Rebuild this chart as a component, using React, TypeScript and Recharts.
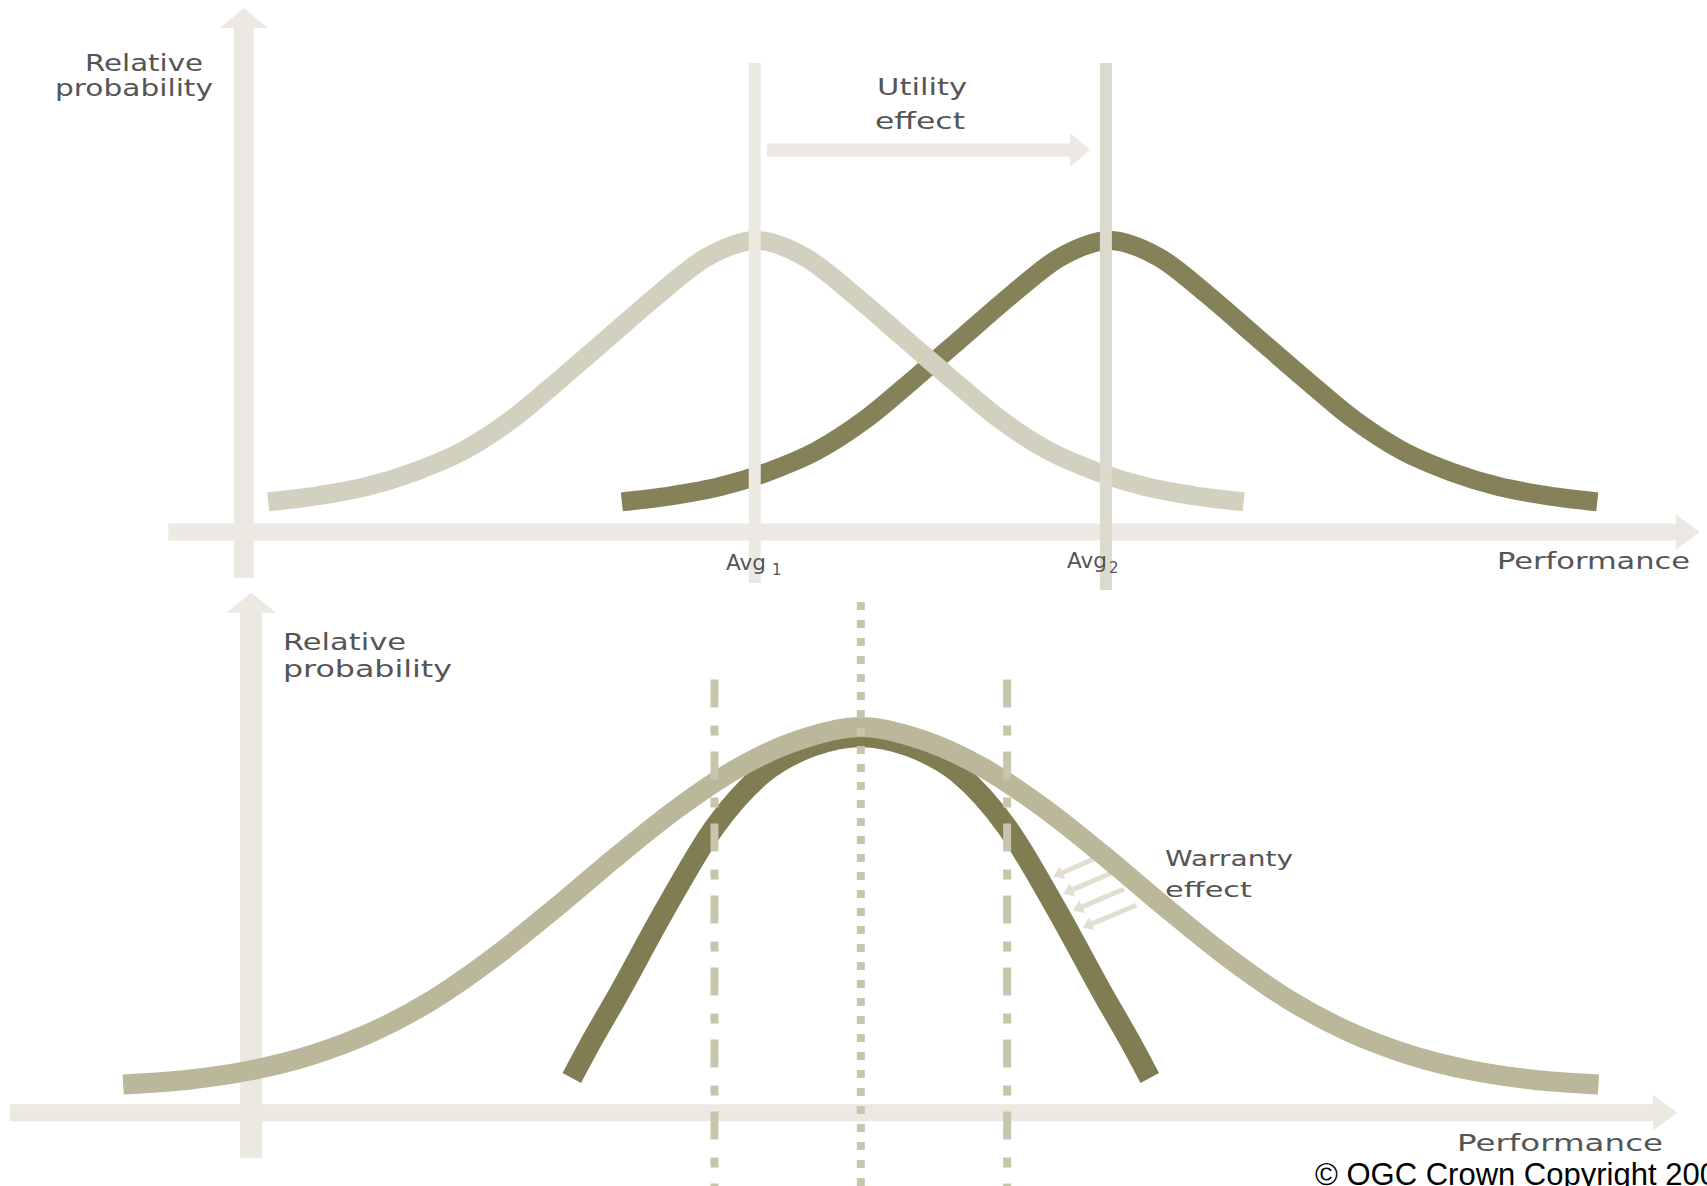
import React from 'react';
import { ComposedChart, Line, XAxis, YAxis, ReferenceLine } from 'recharts';

// ---------- Top panel: utility effect (performance units vs relative probability) ----------
const topBeforeX = [2, 6, 10, 14, 18, 22, 26, 30, 34, 38, 42, 46, 50, 54, 58, 62, 66, 70, 74, 78, 82];
const topBeforeY = [0.1, 0.12, 0.15, 0.2, 0.27, 0.375, 0.51, 0.65, 0.79, 0.915, 0.97, 0.915, 0.79, 0.65, 0.51, 0.375, 0.27, 0.2, 0.15, 0.12, 0.1];
const topAfterX = [31, 35, 39, 43, 47, 51, 55, 59, 63, 67, 71, 75, 79, 83, 87, 91, 95, 99, 103, 107, 111];
const topAfterY = [0.1, 0.12, 0.15, 0.2, 0.27, 0.375, 0.51, 0.65, 0.79, 0.915, 0.97, 0.915, 0.79, 0.65, 0.51, 0.375, 0.27, 0.2, 0.15, 0.12, 0.1];
const averages = [41.9, 70.7];
const averageTop = 1.56;
const averageBottoms = [-0.17, -0.193];
const utilityFrom = 42.9;
const utilityTo = 69.4;
const utilityLevel = 1.271;
const topAxisXStart = -6.2;
const topAxisXEnd = 119.4;
const topAxisYStart = -0.153;
const topAxisYEnd = 1.743;

// ---------- Bottom panel: warranty effect ----------
const bottomWideX = [-10.5, -5, 0, 5, 10, 15, 20, 25, 30, 35, 40, 45, 50, 55, 60, 65, 70, 75, 80, 85, 90, 95, 100, 105, 110.5];
const bottomWideY = [0.073, 0.086, 0.11, 0.15, 0.21, 0.295, 0.405, 0.532, 0.665, 0.79, 0.895, 0.967, 1.0, 0.967, 0.895, 0.79, 0.665, 0.532, 0.405, 0.295, 0.21, 0.15, 0.11, 0.086, 0.073];
const bottomNarrowX = [26.3, 28, 30, 34, 38, 42, 46, 50, 54, 58, 62, 66, 70, 72, 73.7];
const bottomNarrowY = [0.09, 0.19, 0.3, 0.53, 0.74, 0.88, 0.95, 0.975, 0.95, 0.88, 0.74, 0.53, 0.3, 0.19, 0.09];
const targetCentre = 50;
const specLimits = [38, 62];
const specTop = 1.123;
const warrantyStartX = [69.6, 70.6, 71.6, 72.6];
const warrantyStartY = [0.665, 0.622, 0.58, 0.538];
const warrantyEndX = [65.8, 66.6, 67.4, 68.2];
const warrantyEndY = [0.612, 0.568, 0.524, 0.48];
const bottomAxisXStart = -19.8;
const bottomAxisXEnd = 116.95;
const bottomAxisYStart = -0.117;
const bottomAxisYEnd = 1.348;

const toPoints = (xs: number[], ys: number[]) => xs.map((x, i) => ({ x, y: ys[i] }));

const AXIS = '#ebe9e1';
const TEXT = '#555555';

const arrowShape = (color: string, width: number, headLen: number, headHalf: number) => (p: any) => {
  const { x1, y1, x2, y2 } = p;
  const dx = x2 - x1;
  const dy = y2 - y1;
  const L = Math.hypot(dx, dy) || 1;
  const ux = dx / L;
  const uy = dy / L;
  const bx = x2 - ux * headLen;
  const by = y2 - uy * headLen;
  const nx = -uy;
  const ny = ux;
  return (
    <g>
      <line x1={x1} y1={y1} x2={bx + ux} y2={by + uy} stroke={color} strokeWidth={width} />
      <polygon
        points={`${x2},${y2} ${bx + nx * headHalf},${by + ny * headHalf} ${bx - nx * headHalf},${by - ny * headHalf}`}
        fill={color}
      />
    </g>
  );
};

const Label = ({ x, y, len, size = 23, children }: any) => (
  <text
    x={x}
    y={y}
    fontFamily="DejaVu Sans"
    fontSize={size}
    textLength={len}
    lengthAdjust="spacingAndGlyphs"
    fill={TEXT}
  >
    {children}
  </text>
);

export default function App() {
  const topBefore = toPoints(topBeforeX, topBeforeY);
  const topAfter = toPoints(topAfterX, topAfterY);
  const bottomWide = toPoints(bottomWideX, bottomWideY);
  const bottomNarrow = toPoints(bottomNarrowX, bottomNarrowY);

  return (
    <div style={{ position: 'absolute', left: 0, top: 0, width: 1707, height: 1186, overflow: 'hidden', background: '#fff' }}>
      <div style={{ position: 'absolute', left: 0, top: 0 }}>
        <ComposedChart width={1707} height={592} margin={{ top: 0, right: 0, bottom: 0, left: 0 }}>
          <XAxis type="number" dataKey="x" domain={[-20, 120]} hide allowDataOverflow />
          <YAxis type="number" domain={[-0.2, 1.77]} hide allowDataOverflow />
          <ReferenceLine
            segment={[{ x: topAxisXStart, y: 0 }, { x: topAxisXEnd, y: 0 }]}
            shape={arrowShape(AXIS, 17, 24, 18)}
            ifOverflow="visible"
          />
          <ReferenceLine
            segment={[{ x: 0, y: topAxisYStart }, { x: 0, y: topAxisYEnd }]}
            shape={arrowShape(AXIS, 20, 20, 24)}
            ifOverflow="visible"
          />
          <Line data={topAfter} dataKey="y" type="monotone" stroke="#858259" strokeWidth={19} dot={false} activeDot={false} isAnimationActive={false} />
          <Line data={topBefore} dataKey="y" type="monotone" stroke="#d2d0bf" strokeWidth={19} dot={false} activeDot={false} isAnimationActive={false} />
          <ReferenceLine
            segment={[{ x: averages[0], y: averageBottoms[0] }, { x: averages[0], y: averageTop }]}
            stroke={AXIS}
            strokeWidth={12}
            ifOverflow="visible"
          />
          <ReferenceLine
            segment={[{ x: averages[1], y: averageBottoms[1] }, { x: averages[1], y: averageTop }]}
            stroke="#dcdacc"
            strokeWidth={12}
            ifOverflow="visible"
          />
          <ReferenceLine
            segment={[{ x: utilityFrom, y: utilityLevel }, { x: utilityTo, y: utilityLevel }]}
            shape={arrowShape(AXIS, 13, 20, 17)}
            ifOverflow="visible"
          />
        </ComposedChart>
      </div>
      <div style={{ position: 'absolute', left: 0, top: 592 }}>
        <ComposedChart width={1707} height={594} margin={{ top: 0, right: 0, bottom: 0, left: 0 }}>
          <XAxis type="number" dataKey="x" domain={[-20.6, 119.4]} hide allowDataOverflow />
          <YAxis type="number" domain={[-0.19, 1.35]} hide allowDataOverflow />
          <ReferenceLine
            segment={[{ x: bottomAxisXStart, y: 0 }, { x: bottomAxisXEnd, y: 0 }]}
            shape={arrowShape(AXIS, 17, 24, 18)}
            ifOverflow="visible"
          />
          <ReferenceLine
            segment={[{ x: 0, y: bottomAxisYStart }, { x: 0, y: bottomAxisYEnd }]}
            shape={arrowShape(AXIS, 22, 20, 25)}
            ifOverflow="visible"
          />
          {warrantyStartX.map((sx, i) => (
            <ReferenceLine
              key={'w' + i}
              segment={[{ x: sx, y: warrantyStartY[i] }, { x: warrantyEndX[i], y: warrantyEndY[i] }]}
              shape={arrowShape('#e2dfd2', 5, 10, 7)}
              ifOverflow="visible"
            />
          ))}
          <Line data={bottomNarrow} dataKey="y" type="monotone" stroke="#807d53" strokeWidth={21} dot={false} activeDot={false} isAnimationActive={false} />
          <Line data={bottomWide} dataKey="y" type="monotone" stroke="#bbb79a" strokeWidth={20} dot={false} activeDot={false} isAnimationActive={false} />
          <ReferenceLine
            segment={[{ x: targetCentre, y: -0.19 }, { x: targetCentre, y: 1.35 }]}
            stroke="#c8c5ad"
            strokeWidth={8}
            strokeDasharray="8 10"
            ifOverflow="visible"
          />
          {specLimits.map((s, i) => (
            <ReferenceLine
              key={'s' + i}
              segment={[{ x: s, y: specTop }, { x: s, y: -0.19 }]}
              stroke="#c8c5ad"
              strokeWidth={8}
              strokeDasharray="28 18 10 16"
              ifOverflow="visible"
            />
          ))}
        </ComposedChart>
      </div>
      <svg width={1707} height={1186} style={{ position: 'absolute', left: 0, top: 0, pointerEvents: 'none' }}>
        <Label x={85} y={71} len={118}>Relative</Label>
        <Label x={55} y={96} len={158}>probability</Label>
        <Label x={877} y={95} len={90}>Utility</Label>
        <Label x={875} y={129} len={90}>effect</Label>
        <Label x={726} y={570} len={40} size={22}>Avg</Label>
        <text x={772} y={575} fontFamily="DejaVu Sans" fontSize={15} fill={TEXT}>1</text>
        <Label x={1067} y={568} len={40} size={22}>Avg</Label>
        <text x={1109} y={573} fontFamily="DejaVu Sans" fontSize={15} fill={TEXT}>2</text>
        <Label x={1497} y={569} len={193}>Performance</Label>
        <Label x={283} y={650} len={123}>Relative</Label>
        <Label x={283} y={677} len={169}>probability</Label>
        <Label x={1165} y={866} len={128} size={22}>Warranty</Label>
        <Label x={1165} y={897} len={87} size={22}>effect</Label>
        <Label x={1457} y={1151} len={206}>Performance</Label>
        <text x={1315} y={1185} fontFamily="Liberation Sans, Arial" fontSize={31} fill="#000">© OGC Crown Copyright 2007</text>
      </svg>
    </div>
  );
}
